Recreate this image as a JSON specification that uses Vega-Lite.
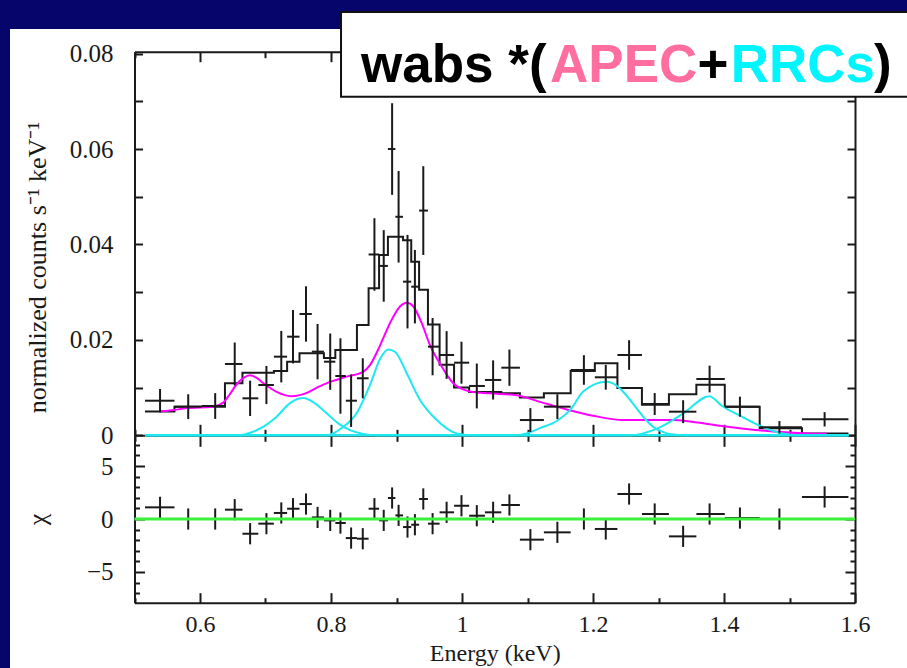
{
  "$schema": "https://vega.github.io/schema/vega-lite/v6.json",
  "width": 897,
  "height": 639,
  "autosize": {"type": "none"},
  "padding": {"left": 10, "top": 29, "right": 0, "bottom": 0},
  "background": "#05056b",
  "config": {
    "view": {"fill": "#ffffff", "stroke": null},
    "axis": {
      "grid": false, "domainColor": "#1a1a1a", "domainWidth": 2,
      "tickColor": "#1a1a1a", "tickWidth": 2,
      "labelFont": "Liberation Serif", "labelFontSize": 23, "labelColor": "#1a1a1a",
      "titleFont": "Liberation Serif", "titleFontSize": 24, "titleFontWeight": "normal", "titleColor": "#1a1a1a",
      "labelFlush": false, "labelOverlap": false
    }
  },
  "datasets": {
    "bins": [
      {"e":0.539,"e1":0.516,"e2":0.561,"rate":0.00725,"rlo":0.0048,"rhi":0.0097,"chi":1.1,"chlo":0.1,"chhi":2.1},
      {"e":0.582,"e1":0.561,"e2":0.6026,"rate":0.006,"rlo":0.0034,"rhi":0.0086,"chi":0,"chlo":-1,"chhi":1},
      {"e":0.6232,"e1":0.6026,"e2":0.6381,"rate":0.00614,"rlo":0.00344,"rhi":0.00884,"chi":0,"chlo":-1,"chhi":1},
      {"e":0.653,"e1":0.6381,"e2":0.6648,"rate":0.01495,"rlo":0.01045,"rhi":0.01945,"chi":0.88,"chlo":-0.12,"chhi":1.88},
      {"e":0.6765,"e1":0.6648,"e2":0.689,"rate":0.00775,"rlo":0.00405,"rhi":0.01145,"chi":-1.39,"chlo":-2.39,"chhi":-0.39},
      {"e":0.7014,"e1":0.689,"e2":0.7128,"rate":0.01054,"rlo":0.00654,"rhi":0.01454,"chi":-0.44,"chlo":-1.44,"chhi":0.56},
      {"e":0.7241,"e1":0.7128,"e2":0.733,"rate":0.01648,"rlo":0.01108,"rhi":0.02188,"chi":0.57,"chlo":-0.43,"chhi":1.57},
      {"e":0.742,"e1":0.733,"e2":0.7519,"rate":0.02067,"rlo":0.01507,"rhi":0.02627,"chi":0.97,"chlo":-0.03,"chhi":1.97},
      {"e":0.7618,"e1":0.7519,"e2":0.7707,"rate":0.02543,"rlo":0.01963,"rhi":0.03123,"chi":1.41,"chlo":0.41,"chhi":2.41},
      {"e":0.7795,"e1":0.7707,"e2":0.7892,"rate":0.01753,"rlo":0.01173,"rhi":0.02333,"chi":0.15,"chlo":-0.85,"chhi":1.15},
      {"e":0.7988,"e1":0.7892,"e2":0.8066,"rate":0.01543,"rlo":0.00953,"rhi":0.02133,"chi":-0.13,"chlo":-1.13,"chhi":0.87},
      {"e":0.8144,"e1":0.8066,"e2":0.8226,"rate":0.01243,"rlo":0.00453,"rhi":0.02033,"chi":-0.38,"chlo":-1.38,"chhi":0.62},
      {"e":0.8307,"e1":0.8226,"e2":0.8396,"rate":0.00725,"rlo":0.00175,"rhi":0.01275,"chi":-1.8,"chlo":-2.8,"chhi":-0.8},
      {"e":0.8485,"e1":0.8396,"e2":0.8574,"rate":0.01195,"rlo":0.00775,"rhi":0.01615,"chi":-1.86,"chlo":-2.86,"chhi":-0.86},
      {"e":0.8663,"e1":0.8574,"e2":0.8734,"rate":0.0379,"rlo":0.0303,"rhi":0.0455,"chi":0.97,"chlo":-0.03,"chhi":1.97},
      {"e":0.8805,"e1":0.8734,"e2":0.8869,"rate":0.0355,"rlo":0.028,"rhi":0.043,"chi":-0.13,"chlo":-1.13,"chhi":0.87},
      {"e":0.8933,"e1":0.8869,"e2":0.8983,"rate":0.06,"rlo":0.0504,"rhi":0.0696,"chi":1.98,"chlo":0.98,"chhi":2.98},
      {"e":0.9032,"e1":0.8983,"e2":0.91,"rate":0.0458,"rlo":0.0362,"rhi":0.0554,"chi":0.34,"chlo":-0.66,"chhi":1.34},
      {"e":0.9168,"e1":0.91,"e2":0.9225,"rate":0.0322,"rlo":0.0224,"rhi":0.042,"chi":-0.76,"chlo":-1.76,"chhi":0.24},
      {"e":0.9281,"e1":0.9225,"e2":0.9345,"rate":0.03115,"rlo":0.02345,"rhi":0.03885,"chi":-0.54,"chlo":-1.54,"chhi":0.46},
      {"e":0.9409,"e1":0.9345,"e2":0.948,"rate":0.0471,"rlo":0.0378,"rhi":0.0564,"chi":1.89,"chlo":0.89,"chhi":2.89},
      {"e":0.9551,"e1":0.948,"e2":0.9658,"rate":0.01858,"rlo":0.01258,"rhi":0.02458,"chi":-0.44,"chlo":-1.44,"chhi":0.56},
      {"e":0.9765,"e1":0.9658,"e2":0.9879,"rate":0.01683,"rlo":0.01183,"rhi":0.02183,"chi":0.63,"chlo":-0.37,"chhi":1.63},
      {"e":0.9992,"e1":0.9879,"e2":1.0109,"rate":0.01522,"rlo":0.01082,"rhi":0.01962,"chi":1.25,"chlo":0.25,"chhi":2.25},
      {"e":1.0226,"e1":1.0109,"e2":1.035,"rate":0.01034,"rlo":0.00564,"rhi":0.01504,"chi":0.31,"chlo":-0.69,"chhi":1.31},
      {"e":1.0475,"e1":1.035,"e2":1.06,"rate":0.0116,"rlo":0.0075,"rhi":0.0157,"chi":0.63,"chlo":-0.37,"chhi":1.63},
      {"e":1.0724,"e1":1.06,"e2":1.0884,"rate":0.01417,"rlo":0.01037,"rhi":0.01797,"chi":1.32,"chlo":0.32,"chhi":2.32},
      {"e":1.1044,"e1":1.0884,"e2":1.125,"rate":0.0032,"rlo":0.0007,"rhi":0.0057,"chi":-1.95,"chlo":-2.95,"chhi":-0.95},
      {"e":1.1456,"e1":1.125,"e2":1.1659,"rate":0.006,"rlo":0.0034,"rhi":0.0086,"chi":-1.26,"chlo":-2.26,"chhi":-0.26},
      {"e":1.1861,"e1":1.1659,"e2":1.2028,"rate":0.01369,"rlo":0.01059,"rhi":0.01679,"chi":0,"chlo":-1,"chhi":1},
      {"e":1.2195,"e1":1.2028,"e2":1.2373,"rate":0.01216,"rlo":0.00956,"rhi":0.01476,"chi":-0.94,"chlo":-1.94,"chhi":0.06},
      {"e":1.2551,"e1":1.2373,"e2":1.2747,"rate":0.01683,"rlo":0.01373,"rhi":0.01993,"chi":2.36,"chlo":1.36,"chhi":3.36},
      {"e":1.2942,"e1":1.2747,"e2":1.3159,"rate":0.00656,"rlo":0.00426,"rhi":0.00886,"chi":0.47,"chlo":-0.53,"chhi":1.47},
      {"e":1.3376,"e1":1.3159,"e2":1.3578,"rate":0.00495,"rlo":0.00255,"rhi":0.00735,"chi":-1.64,"chlo":-2.64,"chhi":-0.64},
      {"e":1.378,"e1":1.3578,"e2":1.4012,"rate":0.0118,"rlo":0.009,"rhi":0.0146,"chi":0.47,"chlo":-0.53,"chhi":1.47},
      {"e":1.4243,"e1":1.4012,"e2":1.4545,"rate":0.006,"rlo":0.0039,"rhi":0.0081,"chi":0.09,"chlo":-0.91,"chhi":1.09},
      {"e":1.4846,"e1":1.4545,"e2":1.519,"rate":0.00168,"rlo":0.00038,"rhi":0.00298,"chi":0,"chlo":-1,"chhi":1},
      {"e":1.5536,"e1":1.519,"e2":1.59,"rate":0.00335,"rlo":0.00185,"rhi":0.00485,"chi":2.08,"chlo":1.08,"chhi":3.08}
    ],
    "model": [
      {"e":0.516,"m":0.005},{"e":0.561,"m":0.006},{"e":0.6026,"m":0.006},{"e":0.6381,"m":0.0109},
      {"e":0.6648,"m":0.0131},{"e":0.689,"m":0.0131},{"e":0.7128,"m":0.0135},{"e":0.733,"m":0.0154},
      {"e":0.7519,"m":0.0172},{"e":0.7707,"m":0.0172},{"e":0.7892,"m":0.0162},{"e":0.8066,"m":0.0179},
      {"e":0.8226,"m":0.0179},{"e":0.8396,"m":0.0231},{"e":0.8574,"m":0.0308},{"e":0.8734,"m":0.0378},
      {"e":0.8869,"m":0.0416},{"e":0.8983,"m":0.0416},{"e":0.91,"m":0.0409},{"e":0.9225,"m":0.0364},
      {"e":0.9345,"m":0.0305},{"e":0.948,"m":0.0232},{"e":0.9658,"m":0.0148},{"e":0.9879,"m":0.01},
      {"e":1.0109,"m":0.0091},{"e":1.035,"m":0.0091},{"e":1.06,"m":0.0088},{"e":1.0884,"m":0.0079},
      {"e":1.125,"m":0.0088},{"e":1.1659,"m":0.0135},{"e":1.2028,"m":0.0151},{"e":1.2373,"m":0.0099},
      {"e":1.2747,"m":0.0064},{"e":1.3159,"m":0.0086},{"e":1.3578,"m":0.0106},{"e":1.4012,"m":0.006},
      {"e":1.4545,"m":0.0015},{"e":1.519,"m":0.0004},{"e":1.59,"m":0.0004}
    ],
    "apec": [
      {"e":0.539,"v":0.005},{"e":0.56,"v":0.0053},{"e":0.58,"v":0.0057},{"e":0.62,"v":0.006},
      {"e":0.635,"v":0.0068},{"e":0.645,"v":0.0085},{"e":0.656,"v":0.0107},{"e":0.667,"v":0.0121},
      {"e":0.676,"v":0.0126},{"e":0.686,"v":0.0121},{"e":0.697,"v":0.0109},{"e":0.717,"v":0.0091},
      {"e":0.74,"v":0.0082},{"e":0.763,"v":0.0089},{"e":0.78,"v":0.0101},{"e":0.7985,"v":0.0112},
      {"e":0.824,"v":0.0123},{"e":0.849,"v":0.0133},{"e":0.8595,"v":0.0147},{"e":0.8748,"v":0.0188},
      {"e":0.89,"v":0.0235},{"e":0.9053,"v":0.027},{"e":0.9156,"v":0.0278},{"e":0.9257,"v":0.027},
      {"e":0.9385,"v":0.0235},{"e":0.9511,"v":0.0189},{"e":0.9664,"v":0.015},{"e":0.9867,"v":0.0109},
      {"e":1.0122,"v":0.0092},{"e":1.0427,"v":0.0088},{"e":1.0835,"v":0.0084},{"e":1.119,"v":0.007},
      {"e":1.16,"v":0.0054},{"e":1.2,"v":0.0041},{"e":1.246,"v":0.0032},{"e":1.287,"v":0.0032},
      {"e":1.3226,"v":0.0032},{"e":1.348,"v":0.0029},{"e":1.394,"v":0.002},{"e":1.424,"v":0.0015},
      {"e":1.475,"v":0.0008},{"e":1.526,"v":0.0004},{"e":1.557,"v":0.0003}
    ],
    "rrc": [
      {"k":"r1","e":0.516,"v":0},{"k":"r1","e":0.66,"v":0},{"k":"r1","e":0.68,"v":0.0007},{"k":"r1","e":0.697,"v":0.0018},
      {"k":"r1","e":0.717,"v":0.0039},{"k":"r1","e":0.737,"v":0.0067},{"k":"r1","e":0.7577,"v":0.0078},{"k":"r1","e":0.7756,"v":0.0067},
      {"k":"r1","e":0.7934,"v":0.0046},{"k":"r1","e":0.8111,"v":0.0025},{"k":"r1","e":0.829,"v":0.0011},{"k":"r1","e":0.849,"v":0.0003},
      {"k":"r1","e":0.87,"v":0},{"k":"r1","e":1.59,"v":0},
      {"k":"r2","e":0.516,"v":0},{"k":"r2","e":0.793,"v":0},{"k":"r2","e":0.819,"v":0.0018},{"k":"r2","e":0.839,"v":0.0046},
      {"k":"r2","e":0.8595,"v":0.0105},{"k":"r2","e":0.8748,"v":0.016},{"k":"r2","e":0.8875,"v":0.018},{"k":"r2","e":0.8977,"v":0.0175},
      {"k":"r2","e":0.9156,"v":0.013},{"k":"r2","e":0.9359,"v":0.0074},{"k":"r2","e":0.9614,"v":0.0032},{"k":"r2","e":0.992,"v":0.0004},
      {"k":"r2","e":1.02,"v":0},{"k":"r2","e":1.59,"v":0},
      {"k":"r3","e":0.516,"v":0},{"k":"r3","e":1.08,"v":0},{"k":"r3","e":1.0988,"v":0.0004},{"k":"r3","e":1.119,"v":0.0015},
      {"k":"r3","e":1.1446,"v":0.003},{"k":"r3","e":1.1675,"v":0.0057},{"k":"r3","e":1.185,"v":0.0092},{"k":"r3","e":1.221,"v":0.0112},
      {"k":"r3","e":1.2997,"v":0.0011},{"k":"r3","e":1.32,"v":0.0002},{"k":"r3","e":1.34,"v":0},{"k":"r3","e":1.59,"v":0},
      {"k":"r4","e":0.516,"v":0},{"k":"r4","e":1.256,"v":0},{"k":"r4","e":1.2997,"v":0.0015},{"k":"r4","e":1.338,"v":0.0046},
      {"k":"r4","e":1.3776,"v":0.0082},{"k":"r4","e":1.3965,"v":0.0062},{"k":"r4","e":1.4244,"v":0.0041},{"k":"r4","e":1.45,"v":0.0023},
      {"k":"r4","e":1.4855,"v":0.0005},{"k":"r4","e":1.516,"v":0},{"k":"r4","e":1.59,"v":0}
    ]
  },
  "resolve": {"scale": {"y": "independent"}, "axis": {"x": "independent", "y": "independent"}},
  "layer": [
    {
      "data": {"name": "model"},
      "mark": {"type": "line", "interpolate": "step-after", "color": "#1a1a1a", "strokeWidth": 2},
      "encoding": {
        "x": {"field": "e", "type": "quantitative",
              "scale": {"domain": [0.5, 1.6], "range": [124.5, 845], "nice": false, "zero": false},
              "axis": {"orient": "bottom", "offset": -232.7, "values": [0.5, 0.7, 0.9, 1.1, 1.3, 1.5], "tickSize": -6, "domain": false, "labels": false, "title": null}},
        "y": {"field": "m", "type": "quantitative",
              "scale": {"domain": [0, 0.0804], "range": [406.3, 22.7], "nice": false, "zero": false},
              "axis": {"orient": "left", "offset": -124.5, "values": [0, 0.01, 0.02, 0.03, 0.04, 0.05, 0.06, 0.07, 0.08],
                       "tickSize": -8, "labelPadding": 29.5, "labelFontSize": 25,
                       "labelExpr": "datum.value == 0 ? '0' : (round(datum.value * 100) % 2 == 0 ? format(datum.value, '.2f') : '')",
                       "title": "normalized counts s⁻¹ keV⁻¹", "titleFontSize": 26, "titleX": -97.5, "titleY": 238, "titleAngle": 270,
                       "titleBaseline": "middle", "titleAlign": "center"}}
      }
    },
    {
      "data": {"name": "apec"},
      "mark": {"type": "line", "interpolate": "monotone", "color": "#ff00ff", "strokeWidth": 2},
      "encoding": {
        "x": {"field": "e", "type": "quantitative",
              "scale": {"domain": [0.5, 1.6], "range": [124.5, 845], "nice": false, "zero": false},
              "axis": {"orient": "bottom", "offset": -232.7, "values": [0.5, 0.7, 0.9, 1.1, 1.3, 1.5], "tickSize": 6, "domain": false, "labels": false, "title": null}},
        "y": {"field": "v", "type": "quantitative",
              "scale": {"domain": [0, 0.0804], "range": [406.3, 22.7], "nice": false, "zero": false},
              "axis": {"orient": "right", "offset": -52, "values": [0, 0.01, 0.02, 0.03, 0.04, 0.05, 0.06, 0.07, 0.08],
                       "tickSize": -8, "labels": false, "title": null}}
      }
    },
    {
      "data": {"name": "rrc"},
      "mark": {"type": "line", "interpolate": "monotone", "color": "#1ee8f0", "strokeWidth": 2},
      "encoding": {
        "x": {"field": "e", "type": "quantitative",
              "scale": {"domain": [0.5, 1.6], "range": [124.5, 845], "nice": false, "zero": false},
              "axis": {"orient": "top", "offset": -22.7, "values": [0.6, 0.8, 1, 1.2, 1.4, 1.6], "tickSize": -10, "labels": false, "title": null}},
        "y": {"field": "v", "type": "quantitative",
              "scale": {"domain": [0, 0.0804], "range": [406.3, 22.7], "nice": false, "zero": false},
              "axis": null},
        "detail": {"field": "k"}
      }
    },
    {
      "data": {"name": "bins"},
      "mark": {"type": "rule", "color": "#1a1a1a", "strokeWidth": 2},
      "encoding": {
        "x": {"field": "e", "type": "quantitative",
              "scale": {"domain": [0.5, 1.6], "range": [124.5, 845], "nice": false, "zero": false},
              "axis": {"orient": "top", "offset": -22.7, "values": [0.5, 0.7, 0.9, 1.1, 1.3, 1.5], "tickSize": -6, "domain": false, "labels": false, "title": null}},
        "y": {"field": "rlo", "type": "quantitative",
              "scale": {"domain": [0, 0.0804], "range": [406.3, 22.7], "nice": false, "zero": false},
              "axis": null},
        "y2": {"field": "rhi"}
      }
    },
    {
      "data": {"name": "bins"},
      "mark": {"type": "rule", "color": "#1a1a1a", "strokeWidth": 2},
      "encoding": {
        "x": {"field": "e1", "type": "quantitative",
              "scale": {"domain": [0.5, 1.6], "range": [124.5, 845], "nice": false, "zero": false},
              "axis": null},
        "x2": {"field": "e2"},
        "y": {"field": "rate", "type": "quantitative",
              "scale": {"domain": [0, 0.0804], "range": [406.3, 22.7], "nice": false, "zero": false},
              "axis": null}
      }
    },
    {
      "data": {"name": "bins"},
      "mark": {"type": "rule", "color": "#1a1a1a", "strokeWidth": 2},
      "encoding": {
        "x": {"field": "e", "type": "quantitative",
              "scale": {"domain": [0.5, 1.6], "range": [124.5, 845], "nice": false, "zero": false},
              "axis": {"orient": "bottom", "offset": -65.3, "values": [0.6, 0.8, 1, 1.2, 1.4, 1.6], "format": "~g",
                       "tickSize": -10, "labelPadding": 20, "labelFontSize": 24, "title": "Energy (keV)", "titleFontSize": 24, "titlePadding": 5}},
        "y": {"field": "chlo", "type": "quantitative",
              "scale": {"domain": [-7.9, 7.9], "range": [573.7, 406.3], "nice": false, "zero": false},
              "axis": {"orient": "left", "offset": -124.5, "values": [-5, 0, 5], "tickSize": -10, "labelPadding": 31.5, "labelFontSize": 25,
                       "title": "χ", "titleFontSize": 26, "titleX": -97.5, "titleAngle": 270, "titleBaseline": "middle", "titleAlign": "center"}},
        "y2": {"field": "chi"}
      }
    },
    {
      "data": {"name": "bins"},
      "mark": {"type": "rule", "color": "#1a1a1a", "strokeWidth": 2},
      "encoding": {
        "x": {"field": "e", "type": "quantitative",
              "scale": {"domain": [0.5, 1.6], "range": [124.5, 845], "nice": false, "zero": false},
              "axis": {"orient": "bottom", "offset": -65.3, "values": [0.5, 0.7, 0.9, 1.1, 1.3, 1.5], "tickSize": -5, "domain": false, "labels": false, "title": null}},
        "y": {"field": "chi", "type": "quantitative",
              "scale": {"domain": [-7.9, 7.9], "range": [573.7, 406.3], "nice": false, "zero": false},
              "axis": {"orient": "left", "offset": -124.5, "values": [-7, -6, -4, -3, -2, -1, 1, 2, 3, 4, 6, 7], "tickSize": -5, "domain": false, "labels": false, "title": null}},
        "y2": {"field": "chhi"}
      }
    },
    {
      "data": {"name": "bins"},
      "mark": {"type": "rule", "color": "#1a1a1a", "strokeWidth": 2},
      "encoding": {
        "x": {"field": "e1", "type": "quantitative",
              "scale": {"domain": [0.5, 1.6], "range": [124.5, 845], "nice": false, "zero": false},
              "axis": {"orient": "bottom", "offset": -232.7, "values": [0.6, 0.8, 1, 1.2, 1.4, 1.6], "tickSize": -11, "labels": false, "title": null}},
        "x2": {"field": "e2"},
        "y": {"field": "chi", "type": "quantitative",
              "scale": {"domain": [-7.9, 7.9], "range": [573.7, 406.3], "nice": false, "zero": false},
              "axis": {"orient": "right", "offset": -52, "values": [-5, 0, 5], "tickSize": -10, "labels": false, "title": null}}
      }
    },
    {
      "data": {"values": [{}]},
      "mark": {"type": "rule", "color": "#3cf03c", "strokeWidth": 3},
      "encoding": {
        "x": {"datum": 0.5, "type": "quantitative",
              "scale": {"domain": [0.5, 1.6], "range": [124.5, 845], "nice": false, "zero": false},
              "axis": {"orient": "bottom", "offset": -232.7, "values": [0.6, 0.8, 1, 1.2, 1.4, 1.6], "tickSize": 11, "domain": false, "labels": false, "title": null}},
        "x2": {"datum": 1.6},
        "y": {"datum": 0, "type": "quantitative",
              "scale": {"domain": [-7.9, 7.9], "range": [573.7, 406.3], "nice": false, "zero": false},
              "axis": {"orient": "right", "offset": -52, "values": [-7, -6, -4, -3, -2, -1, 1, 2, 3, 4, 6, 7], "tickSize": -5, "domain": false, "labels": false, "title": null}}
      }
    },
    {
      "data": {"values": [{}]},
      "mark": {"type": "rect", "fill": "#ffffff", "stroke": "#111111", "strokeWidth": 2},
      "encoding": {
        "x": {"datum": 0.8153, "type": "quantitative",
              "scale": {"domain": [0.5, 1.6], "range": [124.5, 845], "nice": false, "zero": false}, "axis": null},
        "x2": {"datum": 1.75},
        "y": {"datum": 0.08872, "type": "quantitative",
              "scale": {"domain": [0, 0.0804], "range": [406.3, 22.7], "nice": false, "zero": false}, "axis": null},
        "y2": {"datum": 0.07097}
      }
    },
    {
      "data": {"values": [{}]},
      "mark": {"type": "text", "text": "wabs *(", "align": "left", "baseline": "alphabetic", "font": "Liberation Sans", "fontWeight": "bold", "fontSize": 53, "color": "#000000"},
      "encoding": {
        "x": {"datum": 0.8458, "type": "quantitative",
              "scale": {"domain": [0.5, 1.6], "range": [124.5, 845], "nice": false, "zero": false}, "axis": null},
        "y": {"datum": 0.07405, "type": "quantitative",
              "scale": {"domain": [0, 0.0804], "range": [406.3, 22.7], "nice": false, "zero": false}, "axis": null}
      }
    },
    {
      "data": {"values": [{}]},
      "mark": {"type": "text", "text": "APEC", "align": "left", "baseline": "alphabetic", "font": "Liberation Sans", "fontWeight": "bold", "fontSize": 53, "color": "#ff6e9e"},
      "encoding": {
        "x": {"datum": 1.1344, "type": "quantitative",
              "scale": {"domain": [0.5, 1.6], "range": [124.5, 845], "nice": false, "zero": false}, "axis": null},
        "y": {"datum": 0.07405, "type": "quantitative",
              "scale": {"domain": [0, 0.0804], "range": [406.3, 22.7], "nice": false, "zero": false}, "axis": null}
      }
    },
    {
      "data": {"values": [{}]},
      "mark": {"type": "text", "text": "+", "align": "left", "baseline": "alphabetic", "font": "Liberation Sans", "fontWeight": "bold", "fontSize": 53, "color": "#000000"},
      "encoding": {
        "x": {"datum": 1.3597, "type": "quantitative",
              "scale": {"domain": [0.5, 1.6], "range": [124.5, 845], "nice": false, "zero": false}, "axis": null},
        "y": {"datum": 0.07405, "type": "quantitative",
              "scale": {"domain": [0, 0.0804], "range": [406.3, 22.7], "nice": false, "zero": false}, "axis": null}
      }
    },
    {
      "data": {"values": [{}]},
      "mark": {"type": "text", "text": "RRCs", "align": "left", "baseline": "alphabetic", "font": "Liberation Sans", "fontWeight": "bold", "fontSize": 53, "color": "#00f5ff"},
      "encoding": {
        "x": {"datum": 1.4102, "type": "quantitative",
              "scale": {"domain": [0.5, 1.6], "range": [124.5, 845], "nice": false, "zero": false}, "axis": null},
        "y": {"datum": 0.07405, "type": "quantitative",
              "scale": {"domain": [0, 0.0804], "range": [406.3, 22.7], "nice": false, "zero": false}, "axis": null}
      }
    },
    {
      "data": {"values": [{}]},
      "mark": {"type": "text", "text": ")", "align": "left", "baseline": "alphabetic", "font": "Liberation Sans", "fontWeight": "bold", "fontSize": 53, "color": "#000000"},
      "encoding": {
        "x": {"datum": 1.629, "type": "quantitative",
              "scale": {"domain": [0.5, 1.6], "range": [124.5, 845], "nice": false, "zero": false}, "axis": null},
        "y": {"datum": 0.07405, "type": "quantitative",
              "scale": {"domain": [0, 0.0804], "range": [406.3, 22.7], "nice": false, "zero": false}, "axis": null}
      }
    }
  ]
}
